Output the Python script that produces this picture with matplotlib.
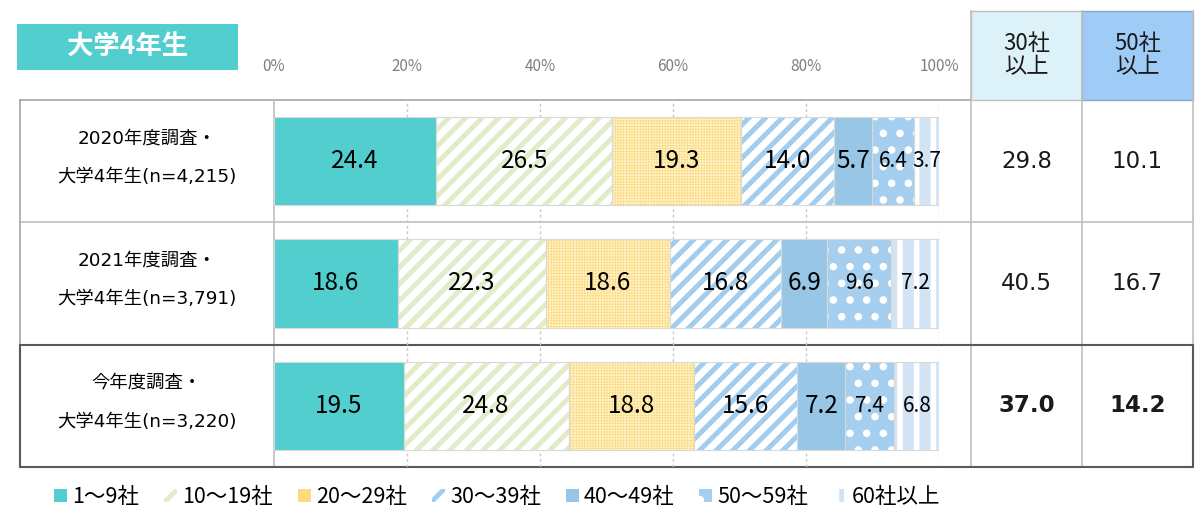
import numpy as np
import matplotlib.pyplot as plt
from matplotlib.patches import Rectangle

plt.rcParams['font.family'] = ['Noto Sans CJK JP', 'DejaVu Sans']
plt.rcParams['hatch.linewidth'] = 3.5

# data
categories = ['1～9社', '10～19社', '20～29社', '30～39社', '40～49社', '50～59社', '60社以上']
row_line1 = ['2020年度調査・', '2021年度調査・', '今年度調査・']
row_line2 = ['大学4年生(n=4,215)', '大学4年生(n=3,791)', '大学4年生(n=3,220)']
v2020 = [24.4, 26.5, 19.3, 14.0, 5.7, 6.4, 3.7]
v2021 = [18.6, 22.3, 18.6, 16.8, 6.9, 9.6, 7.2]
v2023 = [19.5, 24.8, 18.8, 15.6, 7.2, 7.4, 6.8]
over30 = [29.8, 40.5, 37.0]
over50 = [10.1, 16.7, 14.2]
col_heads = ['30社\n以上', '50社\n以上']
ticks = [0, 20, 40, 60, 80, 100]

rows = [v2020, v2021, v2023]

# style per category: face, hatch, hatch color, hatch lw, label size
styles = [
    ('#52CECE', None, '#52CECE', 0, 17.5),
    ('white', '//', '#E0EDC8', 3.6, 17.5),
    ('#FFF3CC', '++++++', '#FCDB80', 0.5, 17.5),
    ('white', '//', '#A3CDEF', 3.6, 17.5),
    ('#98C6E6', None, '#98C6E6', 0, 17.5),
    ('#A5CEEF', '.', 'white', 3.0, 15),
    ('white', '|', '#D2E4F4', 8, 15),
]

W, H = 1200, 517
fig = plt.figure(figsize=(12, 5.17), dpi=100)

# background axes in pixel coords for the table
bg = fig.add_axes([0, 0, 1, 1], zorder=0)
bg.set_xlim(0, W)
bg.set_ylim(H, 0)
bg.axis('off')

top, rh = 100, 122.33
x_l, x0, x100, c1, c2, x_r = 20, 274, 939, 971, 1082, 1193
grey = '#BFBFBF'
latin = ['DejaVu Sans', 'Noto Sans CJK JP']

# header boxes
bg.add_patch(Rectangle((c1, 11), c2 - c1, top - 11, facecolor='#DDF1F8', edgecolor='#BFBFBF', lw=1))
bg.add_patch(Rectangle((c2, 11), x_r - c2, top - 11, facecolor='#9FCBF7', edgecolor='#8EA9C9', lw=1))
for x, t in zip([(c1 + c2) / 2, (c2 + x_r) / 2], col_heads):
    bg.text(x, 55, t, ha='center', va='center', fontsize=16, linespacing=1.0, color='#1a1a1a')

# title box
bg.add_patch(Rectangle((17, 24), 221, 46, facecolor='#52CECE', edgecolor='none'))
bg.text(128, 47, '大学4年生', ha='center', va='center', fontsize=19, color='white', fontweight='bold')

# table lines
bg.plot([x_l, c1], [top, top], color='#A6A6A6', lw=1.2)
for i in range(1, 4):
    y = top + rh * i
    bg.plot([x_l, x_r], [y, y], color=grey, lw=1.2)
bg.plot([x_l, x_l], [top, top + 3 * rh], color='#A6A6A6', lw=1.2)
for x in [x0, c1, c2, x_r]:
    bg.plot([x, x], [top if x == x0 else 11, top + 3 * rh], color=grey, lw=1.2)
bg.add_patch(Rectangle((x_l, top + 2 * rh), x_r - x_l, rh, fill=False, edgecolor='#595959', lw=1.5, zorder=5))

for i in range(3):
    yc = top + rh * (i + 0.5)
    bg.text(147, yc - 23, row_line1[i], ha='center', va='center', fontsize=13.2, family=latin)
    bg.text(147, yc + 16, row_line2[i], ha='center', va='center', fontsize=13.2, family=latin)
    fw = 'bold' if i == 2 else 'normal'
    bg.text((c1 + c2) / 2, yc, f'{over30[i]:.1f}', ha='center', va='center', fontsize=16.5,
            fontweight=fw, color='#1a1a1a', family=latin)
    bg.text((c2 + x_r) / 2, yc, f'{over50[i]:.1f}', ha='center', va='center', fontsize=16.5,
            fontweight=fw, color='#1a1a1a', family=latin)

# bar axes
ax = fig.add_axes([x0 / W, (H - (top + 3 * rh)) / H, (x100 - x0) / W, 3 * rh / H], zorder=1)
ax.patch.set_alpha(0)
ax.set_xlim(0, 100)
ax.set_ylim(2.5, -0.5)
for s in ax.spines.values():
    s.set_visible(False)
ax.set_yticks([])
ax.set_xticks(ticks)
ax.set_xticklabels([f'{t}%' for t in ticks], color='#7F7F7F', fontsize=11)
ax.xaxis.tick_top()
ax.tick_params(axis='x', length=0, pad=18)
for t in ticks[1:]:
    ax.axvline(t, color='#C8C8C8', lw=1, ls=(0, (2, 2)), zorder=0)

ypos = np.arange(3)
data = np.array(rows)
left = np.zeros(3)
handles = []
for j, cat in enumerate(categories):
    face, hatch, hcol, hlw, fs = styles[j]
    vals = data[:, j]
    bars = ax.barh(ypos, vals, left=left, height=0.72, color=face, edgecolor=hcol,
                   hatch=hatch, linewidth=0, label=cat, zorder=2)
    for b in bars:
        if hasattr(b, 'set_hatch_linewidth') and hatch:
            b.set_hatch_linewidth(hlw)
    ax.barh(ypos, vals, left=left, height=0.72, fill=False, edgecolor='#D9D9D9', linewidth=0.8, zorder=3)
    handles.append(bars[0])
    for k in range(3):
        ax.text(left[k] + vals[k] / 2, ypos[k], f'{vals[k]:.1f}', ha='center', va='center',
                fontsize=fs, color='black', zorder=4)
    left += vals

fig.legend(handles, categories, loc='center', bbox_to_anchor=(497 / W, 1 - 497 / H), ncol=7,
           frameon=False, fontsize=15.5, handlelength=0.6, handleheight=0.6, handletextpad=0.25,
           columnspacing=1.15)

fig.savefig('out.png', dpi=100)
